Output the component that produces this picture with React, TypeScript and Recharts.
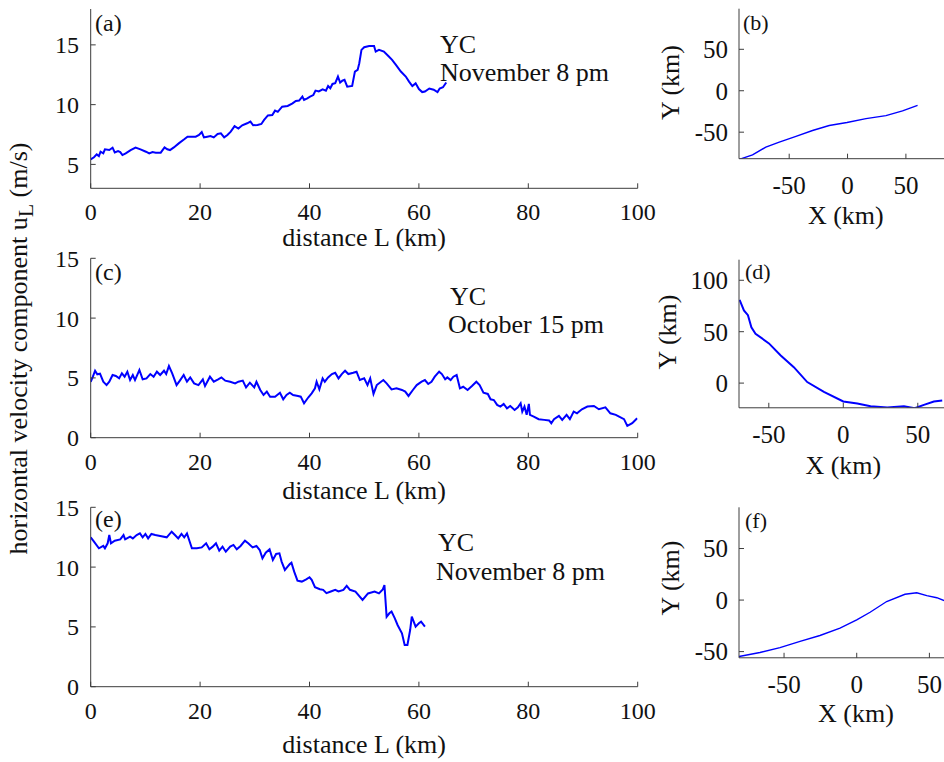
import React from 'react';
import { LineChart, Line, XAxis, YAxis } from 'recharts';

const FONT = '"Liberation Serif", "Times New Roman", serif';
const INK = '#111';
const AXIS = '#3c3c3c';
const BLUE = '#0000ff';

// (a) YC, November 8 pm: [distance L (km), u_L (m/s)]
const trackA: [number, number][] = [
  [0, 5.42], [0.6, 5.6], [1.1, 5.84], [1.5, 5.7], [1.8, 6.06], [2.3, 5.92], [2.6, 6.26], [3.4, 6.2],
  [4.0, 6.4], [4.4, 6.0], [5.0, 6.12], [5.4, 6.03], [5.8, 5.78], [6.4, 5.92], [7.3, 6.2], [8.2, 6.4],
  [9.1, 6.26], [10.1, 6.06], [10.7, 5.92], [11.3, 6.03], [11.9, 5.98], [12.8, 5.98], [13.5, 6.42],
  [14.0, 6.26], [14.5, 6.2], [15.2, 6.42], [16.1, 6.76], [17.1, 7.1], [17.7, 7.32], [18.3, 7.32],
  [19.2, 7.32], [19.8, 7.46], [20.3, 7.7], [20.7, 7.26], [21.3, 7.32], [21.9, 7.37], [22.5, 7.26],
  [23.2, 7.54], [23.8, 7.6], [24.4, 7.26], [25.0, 7.46], [25.6, 7.74], [26.3, 8.2], [27.0, 8.0],
  [27.7, 8.27], [28.6, 8.44], [29.2, 8.58], [29.7, 8.27], [30.5, 8.3], [31.2, 8.38], [31.7, 8.72],
  [32.4, 9.1], [33.2, 9.13], [33.7, 9.5], [34.2, 9.4], [35.0, 9.83], [36.0, 9.89], [36.9, 10.1],
  [37.5, 10.3], [38.1, 10.34], [38.7, 10.67], [39.0, 10.4], [39.6, 10.53], [40.1, 10.67], [40.7, 10.8],
  [41.1, 11.17], [41.7, 11.1], [42.4, 11.28], [43.0, 11.17], [43.4, 11.56], [43.8, 11.37], [44.2, 11.73],
  [44.7, 11.8], [45.2, 12.35], [45.6, 11.84], [46.0, 12.0], [46.4, 12.07], [46.9, 11.5], [47.8, 11.56],
  [48.3, 12.77], [48.8, 12.9], [49.1, 13.46], [49.5, 14.58], [50.0, 14.8], [50.9, 14.9], [51.8, 14.9],
  [52.1, 14.44], [52.7, 14.58], [53.6, 14.44], [54.5, 14.02], [55.1, 13.74], [55.8, 13.32], [56.7, 12.77],
  [57.6, 12.35], [58.2, 11.93], [58.8, 11.56], [59.4, 11.78], [60.0, 11.3], [60.6, 11.05], [61.1, 11.1],
  [61.9, 11.35], [62.7, 11.25], [63.4, 11.05], [63.8, 11.35], [64.4, 11.45], [65.0, 11.85],
];

// (c) YC, October 15 pm
const trackC: [number, number][] = [
  [0, 4.68], [0.4, 5.1], [0.8, 5.6], [1.2, 5.3], [1.7, 5.35], [2.3, 4.68], [2.9, 4.4], [3.4, 4.68],
  [4.0, 5.24], [4.6, 5.16], [5.2, 4.96], [5.7, 5.38], [6.2, 5.1], [6.7, 5.52], [7.2, 4.82], [7.7, 5.24],
  [8.1, 4.82], [8.9, 5.66], [9.5, 4.88], [10.2, 4.96], [10.9, 5.32], [11.5, 5.1], [12.1, 5.52],
  [12.7, 5.24], [13.4, 5.6], [13.8, 5.32], [14.3, 5.99], [14.9, 5.38], [15.7, 4.4], [16.3, 4.77],
  [17.0, 5.24], [17.6, 4.68], [18.2, 5.04], [18.9, 4.54], [19.7, 4.4], [20.5, 4.88], [20.9, 4.32],
  [21.8, 5.1], [22.5, 4.68], [23.3, 4.88], [23.9, 5.04], [24.6, 4.77], [25.5, 4.68], [26.4, 4.54],
  [27.0, 4.68], [27.8, 4.77], [28.4, 4.21], [29.1, 4.6], [29.9, 4.21], [30.3, 4.68], [31.0, 3.99],
  [31.6, 3.57], [32.2, 3.85], [32.8, 3.43], [33.7, 3.43], [34.6, 3.76], [35.2, 3.21], [35.8, 3.57],
  [36.4, 3.76], [37.0, 3.57], [37.9, 3.49], [38.4, 3.43], [39.0, 2.88], [39.8, 3.38], [40.4, 3.71],
  [41.0, 4.13], [41.3, 4.68], [41.8, 4.04], [42.4, 4.96], [42.8, 4.68], [43.4, 5.04], [44.1, 5.32],
  [44.7, 5.43], [45.3, 4.96], [45.9, 5.32], [46.5, 5.6], [47.1, 5.32], [48.0, 5.43], [48.6, 5.52],
  [49.2, 4.82], [50.0, 4.96], [50.6, 4.4], [51.1, 4.96], [51.7, 3.66], [52.3, 4.4], [53.5, 4.82],
  [54.1, 4.54], [55.0, 4.04], [55.9, 4.13], [56.9, 3.99], [57.5, 3.85], [58.1, 3.49], [58.9, 3.99],
  [59.6, 4.4], [60.5, 4.68], [61.1, 4.82], [61.7, 4.49], [62.3, 4.68], [62.9, 5.1], [63.7, 5.52],
  [64.2, 5.32], [64.8, 4.88], [65.2, 5.04], [65.8, 4.82], [66.3, 5.1], [66.9, 5.24], [67.5, 4.13],
  [68.1, 4.26], [68.9, 3.99], [69.7, 4.32], [70.5, 4.68], [71.1, 4.4], [71.8, 3.76], [72.6, 3.66],
  [73.1, 3.21], [73.7, 3.15], [74.3, 2.74], [74.9, 2.6], [75.5, 2.82], [76.1, 2.46], [76.7, 2.65],
  [77.5, 2.32], [78.1, 2.54], [78.6, 2.88], [78.9, 2.18], [79.3, 2.6], [79.7, 1.91], [80.1, 2.82],
  [80.3, 1.91], [81.0, 1.77], [81.9, 1.55], [82.9, 1.49], [83.8, 1.44], [84.2, 1.21], [84.7, 1.55],
  [85.6, 1.83], [86.2, 1.49], [87.0, 1.91], [87.6, 1.55], [88.3, 2.18], [88.9, 2.04], [89.8, 2.38],
  [90.8, 2.6], [92.0, 2.65], [92.9, 2.38], [94.1, 2.54], [95.0, 2.04], [96.0, 1.91], [96.6, 1.77],
  [97.5, 1.55], [98.1, 0.99], [99.0, 1.21], [99.9, 1.63],
];

// (e) YC, November 8 pm
const trackE: [number, number][] = [
  [0, 12.49], [0.6, 12.13], [1.5, 11.57], [2.3, 11.77], [2.6, 11.57], [3.1, 11.99], [3.4, 12.68],
  [3.7, 11.99], [4.4, 12.21], [5.4, 12.32], [6.0, 12.68], [6.3, 12.32], [7.2, 12.54], [7.7, 12.4],
  [8.4, 12.68], [9.0, 12.82], [9.5, 12.49], [10.0, 12.77], [10.5, 12.4], [11.1, 12.77], [11.8, 12.68],
  [12.7, 12.6], [13.9, 12.49], [14.8, 12.96], [15.4, 12.68], [16.0, 12.4], [16.6, 12.77], [17.1, 12.49],
  [17.6, 12.82], [18.5, 11.57], [19.4, 11.57], [20.3, 11.65], [21.1, 11.99], [21.7, 11.49], [22.3, 11.71],
  [22.9, 11.99], [23.5, 11.38], [24.1, 11.71], [24.7, 11.29], [25.5, 11.71], [26.1, 11.85], [26.7, 11.49],
  [27.4, 11.77], [28.2, 12.21], [28.8, 11.99], [29.6, 11.65], [30.3, 11.77], [30.9, 11.43], [31.4, 10.74],
  [32.0, 11.21], [32.7, 11.49], [33.3, 10.6], [33.9, 11.1], [34.5, 11.15], [34.9, 10.46], [35.5, 9.76],
  [36.0, 10.04], [36.4, 10.26], [36.7, 10.37], [37.2, 9.62], [37.8, 8.87], [38.6, 8.79], [39.4, 8.98],
  [40.0, 9.15], [40.4, 8.93], [41.0, 8.32], [41.9, 8.15], [42.5, 8.1], [43.1, 7.82], [43.9, 7.96],
  [44.7, 8.1], [45.3, 7.96], [46.2, 8.1], [46.8, 8.43], [47.4, 8.1], [48.4, 7.95], [49.7, 7.25],
  [50.7, 7.8], [51.9, 7.95], [52.7, 7.8], [53.4, 8.14], [53.7, 8.5], [54.1, 5.85], [54.6, 6.14],
  [55.0, 6.28], [55.6, 5.72], [56.1, 5.16], [56.9, 4.46], [57.4, 3.49], [57.9, 3.49], [58.4, 4.74],
  [58.7, 5.85], [59.4, 5.02], [60.0, 5.3], [60.4, 5.44], [61.1, 5.02],
];

// (b), (d), (f) tracks: [X (km), Y (km)]
const trackB: [number, number][] = [
  [-92.8, -82.8], [-81.4, -77.5], [-70, -68], [-58.5, -62], [-44.2, -55], [-30, -48], [-15.7, -42],
  [-0.5, -38.4], [15.8, -33.7], [32.9, -30.1], [47.1, -24.3], [60, -17.7],
];
const trackD: [number, number][] = [
  [-69.6, 81], [-66.7, 70.7], [-64, 66], [-61.7, 54.2], [-58.9, 48], [-49.9, 38.6], [-42, 26.9],
  [-33.2, 15.5], [-24.2, 1], [-13, -8.5], [0, -17.9], [9.4, -19.8], [18.3, -22.6], [29.5, -23.6],
  [40.7, -22.6], [47.9, -24.5], [54.1, -21.2], [60.8, -17.9], [66.4, -17],
];
const trackF: [number, number][] = [
  [-81, -54.7], [-66.6, -50.9], [-52.8, -46.2], [-39, -40], [-25.3, -34.4], [-11.5, -27.3], [0, -19.3],
  [9.2, -11.8], [20.6, -1.4], [33.2, 5.6], [41.3, 7.1], [48.2, 4.3], [55.1, 2.3], [60.1, -0.5],
];

const distTicks = [0, 20, 40, 60, 80, 100];
const speedTicksA = [5, 10, 15];
const speedTicks = [0, 5, 10, 15];
const xyTicks = [-50, 0, 50];
const yTicksD = [0, 50, 100];

const toRows = (pts: [number, number][]) => pts.map(([x, y]) => ({ x, y }));

type PanelProps = {
  pts: [number, number][];
  left: number;
  top: number;
  width: number;
  height: number;
  margin: { top: number; right: number; bottom: number; left: number };
  xDomain: [number, number];
  yDomain: [number, number];
  xTicks: number[];
  yTicks: number[];
  xTitle: string;
  xAxisHeight: number;
  xTickMargin: number;
  yTickMargin: number;
  yAxisWidth: number;
  tickFont: number;
  lineWidth: number;
};

const Panel = (p: PanelProps) => {
  const tickStyle = { fill: INK, fontSize: p.tickFont, fontFamily: FONT };
  return (
    <div style={{ position: 'absolute', left: p.left, top: p.top }}>
      <LineChart width={p.width} height={p.height} data={toRows(p.pts)} margin={p.margin}>
        <XAxis
          dataKey="x" type="number" domain={p.xDomain} ticks={p.xTicks} allowDataOverflow
          interval={0} height={p.xAxisHeight} tickSize={-5} tickMargin={p.xTickMargin}
          stroke={AXIS} tick={tickStyle}
          label={{ value: p.xTitle, position: 'insideBottom', offset: 0, fill: INK, fontSize: 26, fontFamily: FONT }}
        />
        <XAxis
          xAxisId="top" orientation="top" type="number" domain={p.xDomain} ticks={p.xTicks}
          allowDataOverflow height={0} tickSize={-5} tick={false} stroke={AXIS}
        />
        <YAxis
          type="number" domain={p.yDomain} ticks={p.yTicks} allowDataOverflow interval={0}
          width={p.yAxisWidth} tickSize={-5} tickMargin={p.yTickMargin} stroke={AXIS} tick={tickStyle}
        />
        <YAxis
          yAxisId="right" orientation="right" type="number" domain={p.yDomain} ticks={p.yTicks}
          allowDataOverflow width={0} tickSize={-5} tick={false} stroke={AXIS}
        />
        <Line
          dataKey="y" type="linear" stroke={BLUE} strokeWidth={p.lineWidth}
          dot={false} activeDot={false} isAnimationActive={false}
        />
      </LineChart>
    </div>
  );
};

const txt = { fontFamily: FONT, fill: INK } as const;

export default function App() {
  return (
    <div style={{ position: 'absolute', left: 0, top: 0, width: 944, height: 762, overflow: 'hidden', background: '#fff', fontFamily: FONT }}>
      {/* left column: speed along the track */}
      <Panel pts={trackA} left={0} top={0} width={660} height={260}
        margin={{ top: 9, right: 22.3, bottom: 14, left: 30.7 }}
        xDomain={[0, 100]} yDomain={[3, 18]} xTicks={distTicks} yTicks={speedTicksA}
        xTitle="distance L (km)" xAxisHeight={57.7} xTickMargin={20} yTickMargin={16.7}
        yAxisWidth={60} tickFont={24} lineWidth={2} />
      <Panel pts={trackC} left={0} top={230} width={660} height={286}
        margin={{ top: 28.3, right: 22.3, bottom: 16.8, left: 30.7 }}
        xDomain={[0, 100]} yDomain={[0, 15]} xTicks={distTicks} yTicks={speedTicks}
        xTitle="distance L (km)" xAxisHeight={61.5} xTickMargin={20} yTickMargin={16.7}
        yAxisWidth={60} tickFont={24} lineWidth={2} />
      <Panel pts={trackE} left={0} top={480} width={660} height={282}
        margin={{ top: 27.3, right: 22.3, bottom: 9.1, left: 30.7 }}
        xDomain={[0, 100]} yDomain={[0, 15]} xTicks={distTicks} yTicks={speedTicks}
        xTitle="distance L (km)" xAxisHeight={66.2} xTickMargin={20} yTickMargin={16.7}
        yAxisWidth={60} tickFont={24} lineWidth={2} />

      {/* right column: track position */}
      <Panel pts={trackB} left={660} top={0} width={292.6} height={239.2}
        margin={{ top: 8.7, right: 0, bottom: 15, left: 19 }}
        xDomain={[-93, 90]} yDomain={[-82, 99]} xTicks={xyTicks} yTicks={xyTicks}
        xTitle="X (km)" xAxisHeight={65.5} xTickMargin={22.7} yTickMargin={16}
        yAxisWidth={60} tickFont={25} lineWidth={1.4} />
      <Panel pts={trackD} left={660} top={230} width={287.6} height={259.2}
        margin={{ top: 29.7, right: 0, bottom: 15, left: 19 }}
        xDomain={[-70, 70]} yDomain={[-24, 120]} xTicks={xyTicks} yTicks={yTicksD}
        xTitle="X (km)" xAxisHeight={66.4} xTickMargin={22.7} yTickMargin={16}
        yAxisWidth={60} tickFont={25} lineWidth={2} />
      <Panel pts={trackF} left={660} top={480} width={313} height={257.2}
        margin={{ top: 27.3, right: 0, bottom: 15, left: 19 }}
        xDomain={[-81, 80]} yDomain={[-56, 90]} xTicks={xyTicks} yTicks={xyTicks}
        xTitle="X (km)" xAxisHeight={64.4} xTickMargin={22.7} yTickMargin={16}
        yAxisWidth={60} tickFont={25} lineWidth={1.4} />

      <svg width={944} height={762} style={{ position: 'absolute', left: 0, top: 0, pointerEvents: 'none' }}>
        <text {...txt} fontSize={26} textAnchor="middle" transform="translate(27,348.5) rotate(-90)">
          horizontal velocity component u
          <tspan fontSize={22} dy={6}>L</tspan>
          <tspan dy={-6}> (m/s)</tspan>
        </text>

        <text {...txt} fontSize={24} x={95} y={31}>(a)</text>
        <text {...txt} fontSize={24} x={95} y={280}>(c)</text>
        <text {...txt} fontSize={24} x={95} y={527}>(e)</text>
        <text {...txt} fontSize={22} x={743} y={30}>(b)</text>
        <text {...txt} fontSize={22} x={745} y={279}>(d)</text>
        <text {...txt} fontSize={22} x={745} y={528}>(f)</text>

        <text {...txt} fontSize={26} x={440} y={53}>YC</text>
        <text {...txt} fontSize={26} x={440} y={81}>November 8 pm</text>
        <text {...txt} fontSize={26} x={450} y={305}>YC</text>
        <text {...txt} fontSize={26} x={448} y={333}>October 15 pm</text>
        <text {...txt} fontSize={26} x={438} y={551}>YC</text>
        <text {...txt} fontSize={26} x={436} y={580}>November 8 pm</text>

        <text {...txt} fontSize={26} textAnchor="middle" transform="translate(679,82.5) rotate(-90)">Y (km)</text>
        <text {...txt} fontSize={26} textAnchor="middle" transform="translate(676,332) rotate(-90)">Y (km)</text>
        <text {...txt} fontSize={26} textAnchor="middle" transform="translate(679,578) rotate(-90)">Y (km)</text>
      </svg>
    </div>
  );
}
